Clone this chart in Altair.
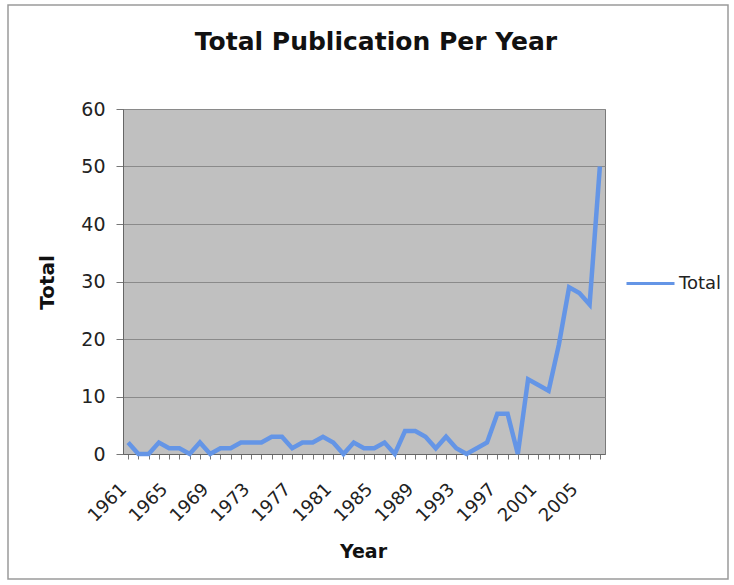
import altair as alt
import pandas as pd

years = list(range(1961, 2008))
totals = [2, 0, 0, 2, 1, 1, 0, 2, 0, 1,
          1, 2, 2, 2, 3, 3, 1, 2, 2, 3,
          2, 0, 2, 1, 1, 2, 0, 4, 4, 3,
          1, 3, 1, 0, 1, 2, 7, 7, 0, 13,
          12, 11, 19, 29, 28, 26, 50]
series_name = ["Total"] * len(years)
y_ticks = [0, 10, 20, 30, 40, 50, 60]

FONT = "DejaVu Sans"

df = pd.DataFrame({"Year": years, "Total": totals, "Series": series_name})

line = alt.Chart(df).mark_line(strokeWidth=4.5, clip=False).encode(
    x=alt.X(
        "Year:Q",
        scale=alt.Scale(domain=[1960.5, 2007.5], nice=False, zero=False),
        axis=alt.Axis(
            values=years,
            labelExpr="(datum.value - 1961) % 4 == 0 ? datum.value + '' : ''",
            labelAngle=315,
            labelAlign="right",
            labelBaseline="top",
            labelFontSize=18,
            labelFont=FONT,
            labelColor="#222222",
            labelPadding=21,
            labelOffset=-11,
            labelOverlap=False,
            tickSize=5,
            tickColor="#777777",
            domainColor="#666666",
            grid=False,
            title="Year",
            titleFont=FONT,
            titleFontSize=19,
            titleFontWeight="bold",
            titleColor="#111111",
            titleX=240,
            titleY=103,
            titleAlign="center",
            titleBaseline="alphabetic",
        ),
    ),
    y=alt.Y(
        "Total:Q",
        scale=alt.Scale(domain=[0, 60], nice=False, zero=True),
        axis=alt.Axis(
            values=y_ticks,
            labelFontSize=19,
            labelFont=FONT,
            labelColor="#222222",
            labelPadding=11,
            tickSize=7,
            tickColor="#777777",
            domainColor="#666666",
            gridColor="#8a8a8a",
            gridWidth=1,
            title="Total",
            titleFont=FONT,
            titleFontSize=20,
            titleFontWeight="bold",
            titleColor="#111111",
            titleAngle=270,
            titleAlign="center",
            titleBaseline="middle",
            titleX=-76,
            titleY=173,
        ),
    ),
    color=alt.Color(
        "Series:N",
        scale=alt.Scale(range=["#6495e6"]),
        legend=alt.Legend(
            title=None,
            orient="none",
            legendX=502,
            legendY=149,
            symbolType="stroke",
            symbolSize=2304,
            symbolStrokeWidth=3,
            labelFont=FONT,
            labelFontSize=18,
            labelColor="#222222",
            labelOffset=3,
        ),
    ),
)

frame_df = pd.DataFrame({"k": [0]})
frame = alt.Chart(frame_df).mark_rect(
    filled=False, stroke="#9a9a9a", strokeWidth=1.5, clip=False
).encode(
    x=alt.value(-115), x2=alt.value(605), y=alt.value(-104), y2=alt.value(470)
)

chart = alt.layer(frame, line).properties(
    width=482,
    height=345,
    autosize=alt.AutoSizeParams(type="none"),
    padding={"left": 123, "top": 109, "right": 129, "bottom": 131},
    background="white",
    title=alt.TitleParams(
        text="Total Publication Per Year",
        font=FONT,
        fontSize=25,
        fontWeight="bold",
        color="#111111",
        anchor="middle",
        frame="group",
        baseline="alphabetic",
        offset=0,
        dy=71,
        dx=12,
    ),
).configure_view(
    fill="#c0c0c0",
    stroke="#7a7a7a",
    strokeWidth=1,
)

chart.save("out.html", embed_options={"renderer": "svg", "actions": False})
